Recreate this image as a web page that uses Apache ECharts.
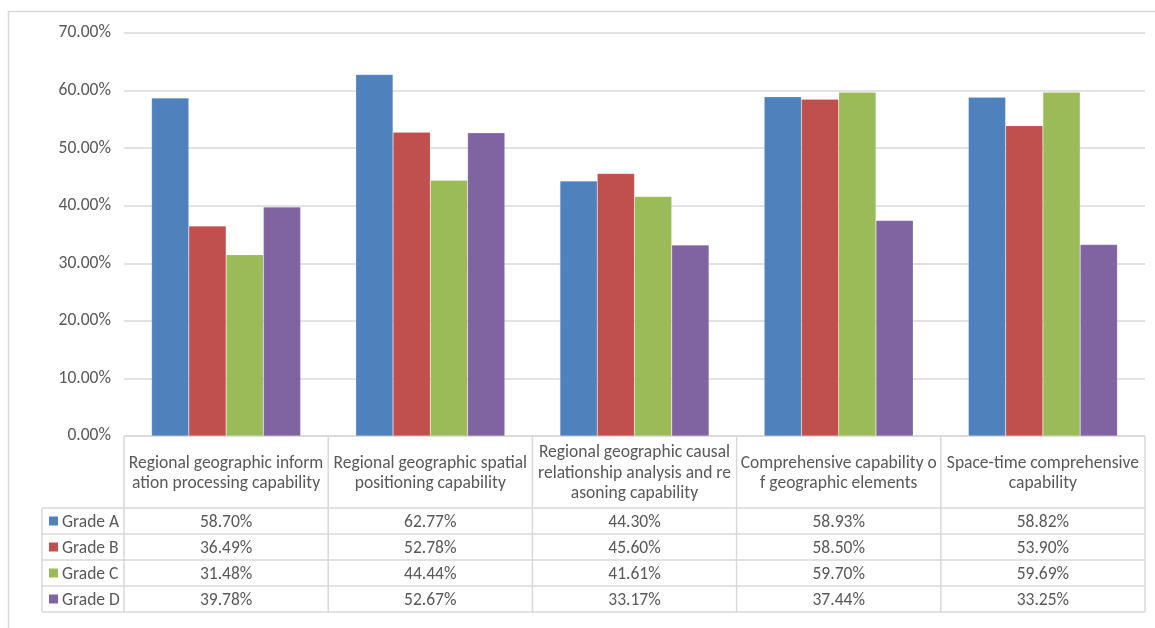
<!DOCTYPE html>
<html>
<head>
<meta charset="utf-8">
<script src="https://cdn.jsdelivr.net/npm/echarts@6/dist/echarts.min.js"></script>
<style>
  html, body { margin: 0; padding: 0; background: #fff; }
  #main { width: 1155px; height: 628px; }
</style>
</head>
<body>
<div id="main"></div>
<script>
// 类别（表头已按原图换行）
var categories = ['C1', 'C2', 'C3', 'C4', 'C5'];
var headerLabels = [
  'Regional geographic inform\nation processing capability',
  'Regional geographic spatial\npositioning capability',
  'Regional geographic causal\nrelationship analysis and re\nasoning capability',
  'Comprehensive capability o\nf geographic elements',
  'Space-time comprehensive\ncapability'
];
var seriesNames = ['Grade A', 'Grade B', 'Grade C', 'Grade D'];
var gradeA = [58.70, 62.77, 44.30, 58.93, 58.82];
var gradeB = [36.49, 52.78, 45.60, 58.50, 53.90];
var gradeC = [31.48, 44.44, 41.61, 59.70, 59.69];
var gradeD = [39.78, 52.67, 33.17, 37.44, 33.25];
var yTicks = [0, 10, 20, 30, 40, 50, 60, 70];

var colorsArr = ['#4F81BD', '#C0504D', '#9BBB59', '#8064A2'];
var allData = [gradeA, gradeB, gradeC, gradeD];

var textColor = '#595959';
var lineColor = '#D9D9D9';
var fontFam = 'Carlito, Lato, sans-serif';
var fs = 17.5;

// 布局
var plotLeft = 124, plotRight = 1145, plotTop = 33, plotBottom = 436;
var colW = (plotRight - plotLeft) / categories.length;
var legendLeft = 42;
var headerBottom = 508;
var rowH = 26;
var textDy = 1.5; // 文字略向下

var graphics = [];

// 外框
graphics.push({
  type: 'rect', silent: true,
  shape: { x: 8.5, y: 11.5, width: 1160, height: 640 },
  style: { fill: 'none', stroke: lineColor, lineWidth: 1.5 }
});

function hLine(x1, x2, y) {
  graphics.push({ type: 'line', silent: true, shape: { x1: x1, y1: y, x2: x2, y2: y },
    style: { stroke: lineColor, lineWidth: 1.5 } });
}
function vLine(x, y1, y2) {
  graphics.push({ type: 'line', silent: true, shape: { x1: x, y1: y1, x2: x, y2: y2 },
    style: { stroke: lineColor, lineWidth: 1.5 } });
}

var tableBottom = headerBottom + rowH * seriesNames.length;
hLine(plotLeft, plotRight, plotBottom);
for (var r = 0; r <= seriesNames.length; r++) {
  hLine(legendLeft, plotRight, headerBottom + r * rowH);
}
vLine(legendLeft, headerBottom, tableBottom);
for (var c = 0; c <= categories.length; c++) {
  vLine(plotLeft + c * colW, plotBottom, tableBottom);
}

// 表头
for (var c = 0; c < categories.length; c++) {
  graphics.push({
    type: 'text', silent: true,
    style: {
      text: headerLabels[c], x: plotLeft + (c + 0.5) * colW, y: (plotBottom + headerBottom) / 2 + textDy,
      align: 'center', verticalAlign: 'middle', fill: textColor,
      fontSize: fs, fontFamily: fontFam, lineHeight: 20.5
    }
  });
}

// 数据行
for (var s = 0; s < seriesNames.length; s++) {
  var cy = headerBottom + (s + 0.5) * rowH;
  graphics.push({
    type: 'rect', silent: true,
    shape: { x: 49, y: cy - 4.5, width: 9, height: 9 },
    style: { fill: colorsArr[s] }
  });
  graphics.push({
    type: 'text', silent: true,
    style: { text: seriesNames[s], x: 62, y: cy + textDy, align: 'left', verticalAlign: 'middle',
      fill: textColor, fontSize: fs, fontFamily: fontFam }
  });
  for (var c = 0; c < categories.length; c++) {
    graphics.push({
      type: 'text', silent: true,
      style: { text: allData[s][c].toFixed(2) + '%', x: plotLeft + (c + 0.5) * colW, y: cy + textDy,
        align: 'center', verticalAlign: 'middle', fill: textColor, fontSize: fs, fontFamily: fontFam }
    });
  }
}

var myChart = echarts.init(document.getElementById('main'));
var option = {
  color: colorsArr,
  animation: false,
  grid: {
    left: plotLeft, right: 1155 - plotRight, top: plotTop, bottom: 628 - plotBottom,
    containLabel: false, outerBoundsMode: 'none'
  },
  xAxis: {
    type: 'category',
    data: categories,
    axisLine: { show: false },
    axisTick: { show: false },
    axisLabel: { show: false }
  },
  yAxis: {
    type: 'value',
    min: yTicks[0],
    max: yTicks[yTicks.length - 1],
    interval: 10,
    axisLine: { show: false },
    axisTick: { show: false },
    axisLabel: {
      color: textColor, fontSize: fs, fontFamily: fontFam, margin: 13,
      padding: [3, 0, 0, 0],
      formatter: function (v) { return v.toFixed(2) + '%'; }
    },
    splitLine: { lineStyle: { color: lineColor, width: 1.5 } }
  },
  series: seriesNames.map(function (name, i) {
    return {
      name: name,
      type: 'bar',
      data: allData[i],
      barGap: '0%',
      barCategoryGap: '27%',
      itemStyle: { borderColor: 'rgba(255,255,255,0.35)', borderWidth: 0.5 }
    };
  }),
  graphic: graphics
};
myChart.setOption(option);
</script>
</body>
</html>
